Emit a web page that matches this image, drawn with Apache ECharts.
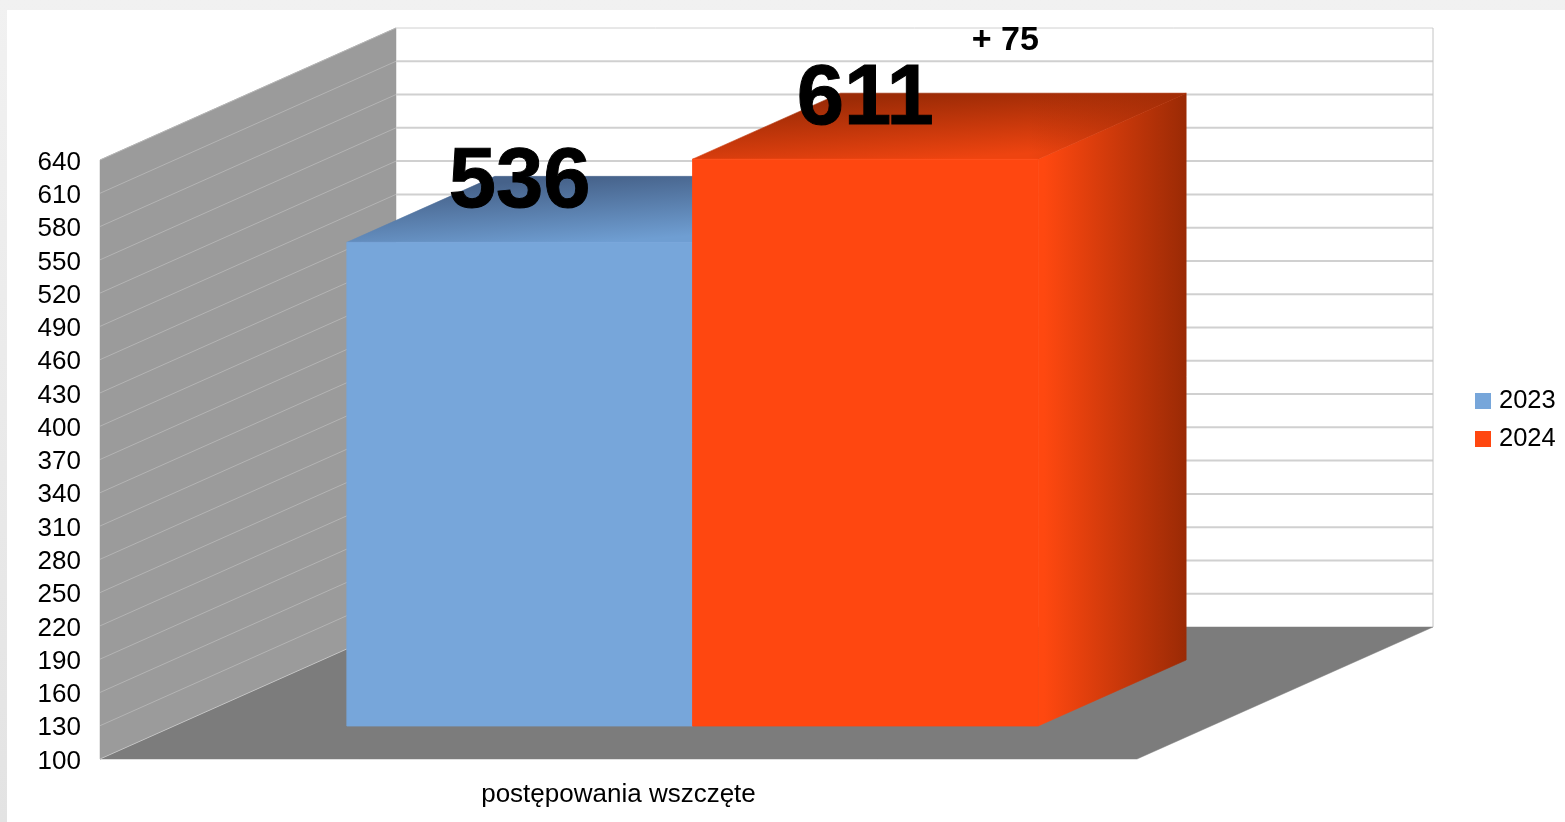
<!DOCTYPE html>
<html>
<head>
<meta charset="utf-8">
<script src="https://cdn.jsdelivr.net/npm/echarts@6/dist/echarts.min.js"></script>
<style>
html,body{margin:0;padding:0;width:1565px;height:822px;overflow:hidden;background:linear-gradient(to bottom,#f1f1f1,#e3e3e3);}
#sheet{position:absolute;left:7px;top:10px;width:1558px;height:812px;background:#fff;}
#chart{position:absolute;left:0;top:0;width:1565px;height:822px;}
</style>
</head>
<body>
<div id="sheet"></div>
<div id="chart"></div>
<script>
var categories = ['postępowania wszczęte'];
var values2023 = [536];
var values2024 = [611];
var yMin = 100, yMax = 640, yStep = 30;
var yTicks = [100,130,160,190,220,250,280,310,340,370,400,430,460,490,520,550,580,610,640];
var changeLabel = '+ 75';

var FONT = '"Liberation Sans", Arial, sans-serif';
var DX = 296, DY = -132;            // full depth of the 3D box
var NEAR = 0.25, FAR = 0.75;        // depth range taken by the bars
var BAR_SHARE = 1 / 3;              // bar width as a share of the band

function shift(p, d) { return [p[0] + DX * d, p[1] + DY * d]; }

function renderBox(params, api) {
  var base = api.coord([0, yMin]);
  var top = api.coord([0, yMax]);
  var band = api.size([1, 0])[0];
  var l = base[0] - band / 2, r = base[0] + band / 2;
  var children = [];
  function poly(pts, fill, z) {
    children.push({ type: 'polygon', z2: z || 0, shape: { points: pts }, style: { fill: fill, stroke: fill, lineWidth: 0.5 } });
  }
  function line(a, b, color, w) {
    children.push({ type: 'line', z2: 2, shape: { x1: a[0], y1: a[1], x2: b[0], y2: b[1] }, style: { stroke: color, lineWidth: w } });
  }
  // left wall
  poly([[l, base[1]], [l, top[1]], shift([l, top[1]], 1), shift([l, base[1]], 1)], '#9b9b9b');
  // floor
  poly([[l, base[1]], [r, base[1]], shift([r, base[1]], 1), shift([l, base[1]], 1)], '#7c7c7c');
  // grid lines
  yTicks.forEach(function (t) {
    var y = api.coord([0, t])[1];
    var a = [l, y];
    var b = shift(a, 1);
    line(a, b, t === yMin ? '#c4c4c4' : '#b4b4b4', 1);
    if (t !== yMin) line(b, shift([r, y], 1), '#d0d0d0', t === yMax ? 1 : 2);
  });
  // back wall right edge
  line(shift([r, top[1]], 1), shift([r, base[1]], 1), '#c4c4c4', 1);
  return { type: 'group', children: children };
}

function makeBar(slot, front, topFrom, topTo, sideFrom, sideTo, cornerShade, labelExtra) {
  return function (params, api) {
    var v = api.value(1);
    var topP = api.coord([0, v]);
    var baseP = api.coord([0, yMin]);
    var band = api.size([1, 0])[0];
    var w = band * BAR_SHARE;
    var x0 = topP[0] - w + slot * w, x1 = x0 + w;
    var fl = shift([x0, topP[1]], NEAR), fr = shift([x1, topP[1]], NEAR);
    var bl = shift([x0, topP[1]], FAR), br = shift([x1, topP[1]], FAR);
    var flb = shift([x0, baseP[1]], NEAR), frb = shift([x1, baseP[1]], NEAR);
    var brb = shift([x1, baseP[1]], FAR);
    var sideFill = new echarts.graphic.LinearGradient(0, 0, 1, 0, [{ offset: 0.04, color: sideFrom }, { offset: 1, color: sideTo }]);
    var topFill = new echarts.graphic.LinearGradient(0.51, 1, 0.5, 0, [{ offset: 0, color: topFrom }, { offset: 1, color: topTo }]);
    var children = [
      { type: 'polygon', shape: { points: [fr, br, brb, frb] }, style: { fill: sideFill, stroke: sideFill, lineWidth: 0.6 } },
      { type: 'polygon', shape: { points: [fl, fr, br, bl] }, style: { fill: topFill, stroke: topFill, lineWidth: 0.6 } }
    ];
    if (cornerShade) {
      children.push({ type: 'polygon', shape: { points: [fl, fr, br, bl] },
        style: { fill: new echarts.graphic.LinearGradient(0, 0, 1, 0, [{ offset: 0.68, color: 'rgba(156,43,6,0)' }, { offset: 1, color: cornerShade }]) } });
    }
    children.push(
      { type: 'polygon', shape: { points: [fl, fr, frb, flb] }, style: { fill: front, stroke: front, lineWidth: 0.8 } },
      { type: 'text', z2: 20, style: { text: String(v), x: (fl[0] + fr[0]) / 2, y: fl[1] - 59, align: 'center', verticalAlign: 'middle',
          font: 'bold 85px ' + FONT, fill: '#000', stroke: '#000', lineWidth: 1 } }
    );
    if (labelExtra) {
      children.push({ type: 'text', z2: 20, style: { text: labelExtra, x: (bl[0] + br[0]) / 2 - 8, y: bl[1] - 53, align: 'center', verticalAlign: 'middle',
        font: 'bold 34px ' + FONT, fill: '#000' } });
    }
    return { type: 'group', children: children };
  };
}

var BLUE = '#77a6da', ORANGE = '#ff4710';
var chart = echarts.init(document.getElementById('chart'), null, { renderer: 'canvas' });
chart.setOption({
  animation: false,
  backgroundColor: 'transparent',
  textStyle: { fontFamily: FONT },
  grid: { left: 100, top: 160, width: 1037, height: 599 },
  legend: {
    data: ['2023', '2024'], orient: 'vertical', left: 1470, top: 383, itemWidth: 16, itemHeight: 16, itemGap: 12,
    icon: 'rect', textStyle: { fontSize: 25.5, color: '#000', fontFamily: FONT, padding: [0, 0, 0, 3] }
  },
  xAxis: {
    type: 'category', data: categories,
    axisLine: { show: false }, axisTick: { show: false }, splitLine: { show: false },
    axisLabel: { color: '#000', fontSize: 26, fontFamily: FONT, margin: 23 }
  },
  yAxis: {
    type: 'value', min: yMin, max: yMax, interval: yStep,
    axisLine: { show: false }, axisTick: { show: false }, splitLine: { show: false },
    axisLabel: {
      color: '#000', fontSize: 26, fontFamily: FONT, margin: 19,
      formatter: '{t|{value}}',
      rich: { t: { color: '#000', fontSize: 26, fontFamily: FONT, padding: [5, 0, 0, 0] } }
    }
  },
  series: [
    { type: 'custom', name: 'box', z: 1, silent: true, clip: false, renderItem: renderBox, encode: { x: 0, y: 1 }, data: [[0, yMax]] },
    { type: 'custom', name: '2023', z: 2, clip: false, itemStyle: { color: BLUE }, encode: { x: 0, y: 1 },
      renderItem: makeBar(0, BLUE, '#6f9ed2', '#46628a', '#5f8ab8', '#46628a'), data: values2023.map(function (v, i) { return [i, v]; }) },
    { type: 'custom', name: '2024', z: 3, clip: false, itemStyle: { color: ORANGE }, encode: { x: 0, y: 1 },
      renderItem: makeBar(1, ORANGE, '#ee4410', '#9c2b06', '#ff4810', '#9a2a05', 'rgba(156,43,6,0.75)', changeLabel), data: values2024.map(function (v, i) { return [i, v]; }) }
  ]
});
</script>
</body>
</html>
